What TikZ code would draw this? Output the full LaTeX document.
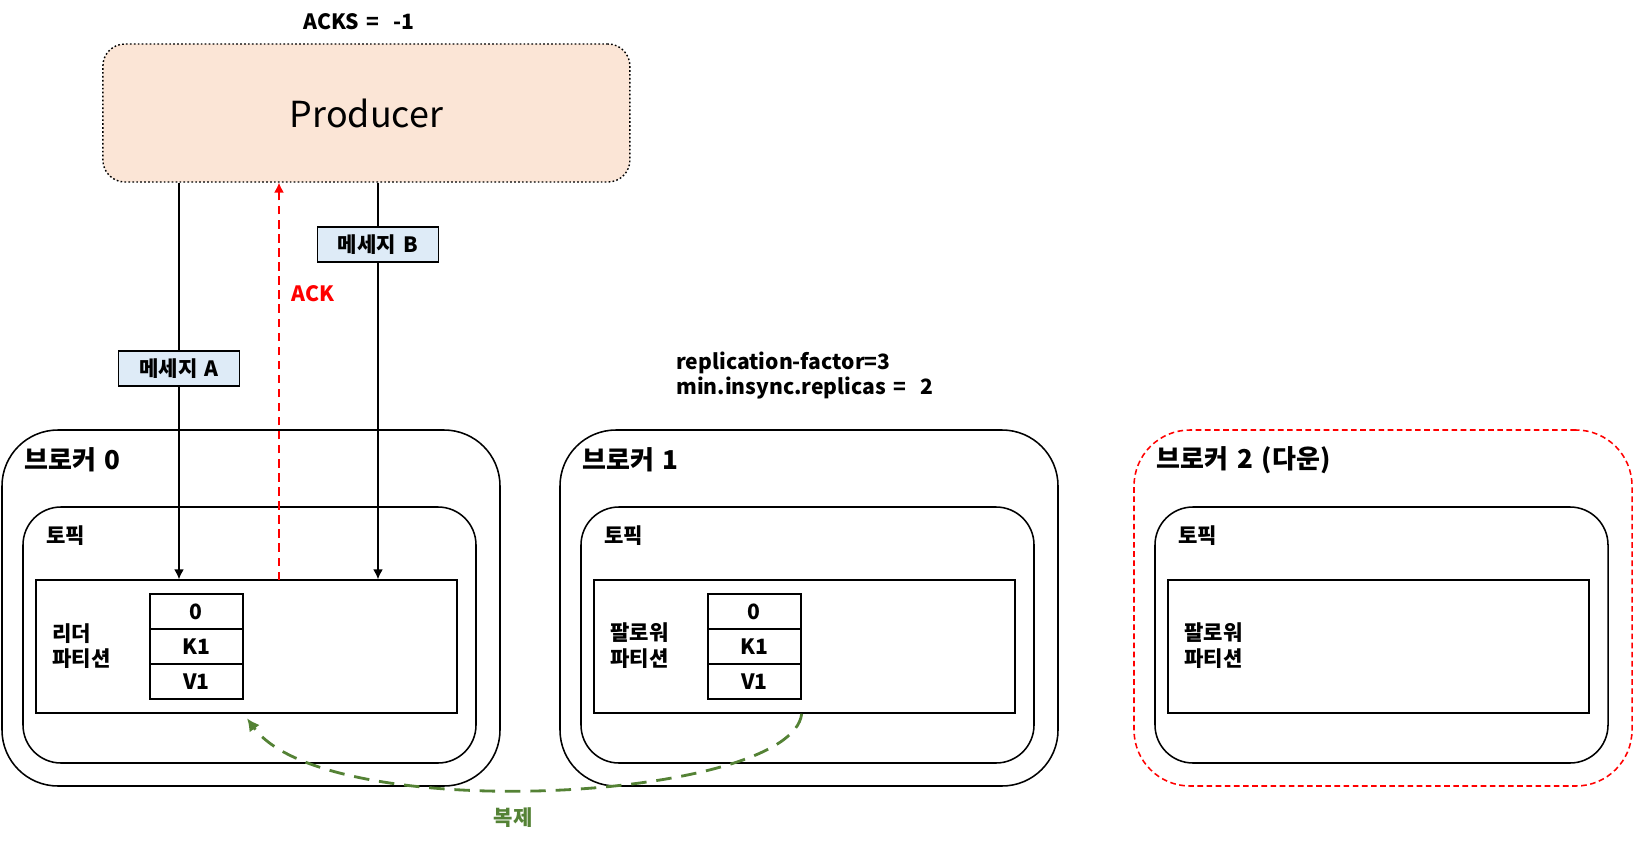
\documentclass[tikz,border=0pt]{standalone}
\usepackage{fontspec}
\setmainfont{Noto Sans CJK KR}[WordSpace=1.5]
\usepackage{tikz}
\usetikzlibrary{arrows.meta,positioning}

\definecolor{prodfill}{RGB}{251,229,214}
\definecolor{msgfill}{RGB}{222,235,247}
\definecolor{copygreen}{RGB}{84,130,53}

\tikzset{
  brokerbox/.style={draw=black,line width=1.1pt,rounded corners=1.4cm,minimum width=12.45cm,minimum height=8.9cm},
  topicbox/.style={draw=black,line width=1.1pt,rounded corners=0.95cm,minimum width=11.325cm,minimum height=6.4cm},
  partbox/.style={draw=black,line width=1.1pt,minimum width=10.525cm,minimum height=3.325cm},
  cellbox/.style={draw=black,line width=1.1pt,minimum width=2.325cm,minimum height=0.875cm,inner sep=0pt,font=\bfseries\fontsize{15}{18}\selectfont},
  msgbox/.style={draw=black,line width=1.1pt,fill=msgfill,minimum width=3.025cm,minimum height=0.87cm,inner sep=0pt,font=\bfseries\fontsize{15}{18}\selectfont},
  lbl/.style={anchor=west,align=left,inner sep=0pt,font=\bfseries\fontsize{15}{17.8}\selectfont},
  brokerlbl/.style={anchor=west,inner sep=0pt,font=\bfseries\fontsize{18.5}{22}\selectfont},
}

\begin{document}
\begin{tikzpicture}[>={Latex[length=7pt,width=7pt]}]
\useasboundingbox (0,0) rectangle (40.825,-21.075);
% producer and messages
\node[font=\bfseries\fontsize{15}{18}\selectfont] (acks) at (8.98,-0.55) {ACKS = \ -1};
\node[draw=black,line width=1pt,dash pattern=on 1.2pt off 1.6pt,fill=prodfill,rounded corners=0.55cm,minimum width=13.175cm,minimum height=3.45cm,font=\fontsize{25.5}{30}\selectfont] (prod) at (9.16,-2.825) {Producer};
\node[msgbox] (msgB) at (9.45,-6.11) {메세지 B};
\node[msgbox] (msgA) at (4.475,-9.21) {메세지 A};
\node[font=\bfseries\fontsize{15}{18}\selectfont,text=red] (ackl) at (7.83,-7.35) {ACK};
\node[lbl] (conf) at (16.9,-9.4) {replication-factor=3\\min.insync.replicas = \ 2};
% broker 0 (leader)
\begin{scope}
\node[brokerbox] (br0) at (6.275,-15.2) {};
\node[topicbox] (tp0) at (6.2375,-15.875) {};
\node[partbox] (pt0) at (6.1625,-16.1625) {};
\node[brokerlbl] (br0l) at (0.6,-11.5) {브로커 0};
\node[lbl] (tp0l) at (1.15,-13.4) {토픽};
\node[lbl] (pt0l) at (1.3,-16.14) {리더\\파티션};
\node[cellbox] (cell0o) at (4.91,-15.29) {0};
\node[cellbox] (cell0k) at (4.91,-16.165) {K1};
\node[cellbox] (cell0v) at (4.91,-17.04) {V1};
\end{scope}
% broker 1 (follower)
\begin{scope}[shift={(13.95,0)}]
\node[brokerbox] (br1) at (6.275,-15.2) {};
\node[topicbox] (tp1) at (6.2375,-15.875) {};
\node[partbox] (pt1) at (6.1625,-16.1625) {};
\node[brokerlbl] (br1l) at (0.6,-11.5) {브로커 1};
\node[lbl] (tp1l) at (1.15,-13.4) {토픽};
\node[lbl] (pt1l) at (1.3,-16.14) {팔로워\\파티션};
\node[cellbox] (cell1o) at (4.91,-15.29) {0};
\node[cellbox] (cell1k) at (4.91,-16.165) {K1};
\node[cellbox] (cell1v) at (4.91,-17.04) {V1};
\end{scope}
% broker 2 (down)
\begin{scope}[shift={(28.3,0)}]
\node[brokerbox,draw=red,dash pattern=on 4pt off 2.5pt] (br2) at (6.275,-15.2) {};
\node[topicbox] (tp2) at (6.2375,-15.875) {};
\node[partbox] (pt2) at (6.1625,-16.1625) {};
\node[brokerlbl] (br2l) at (0.6,-11.5) {브로커 2 (다운)};
\node[lbl] (tp2l) at (1.15,-13.4) {토픽};
\node[lbl] (pt2l) at (1.3,-16.14) {팔로워\\파티션};
\end{scope}
% connectors
\coordinate (ackfoot) at (6.975,-14.5);
\draw[line width=1pt] (prod.south -| msgA) -- (msgA.north);
\draw[->,line width=1pt] (msgA.south) -- (msgA.south |- pt0.north);
\draw[line width=1pt] (prod.south -| msgB) -- (msgB.north);
\draw[->,line width=1pt] (msgB.south) -- (msgB.south |- pt0.north);
\draw[->,red,line width=1pt,dash pattern=on 6pt off 4pt] (ackfoot) -- (ackfoot |- prod.south);
\draw[-{Latex[length=9pt,width=9pt]},copygreen,line width=2pt,dash pattern=on 11pt off 7pt,shorten >=4pt] (pt1.south -| cell1v.east) .. controls +(-0.25,-2.175) and +(2.075,-2.825) .. (pt0.south -| cell0v.east);
\node[font=\bfseries\fontsize{15}{18}\selectfont,text=copygreen] (copyl) at (12.825,-20.45) {복제};
\end{tikzpicture}
\end{document}
